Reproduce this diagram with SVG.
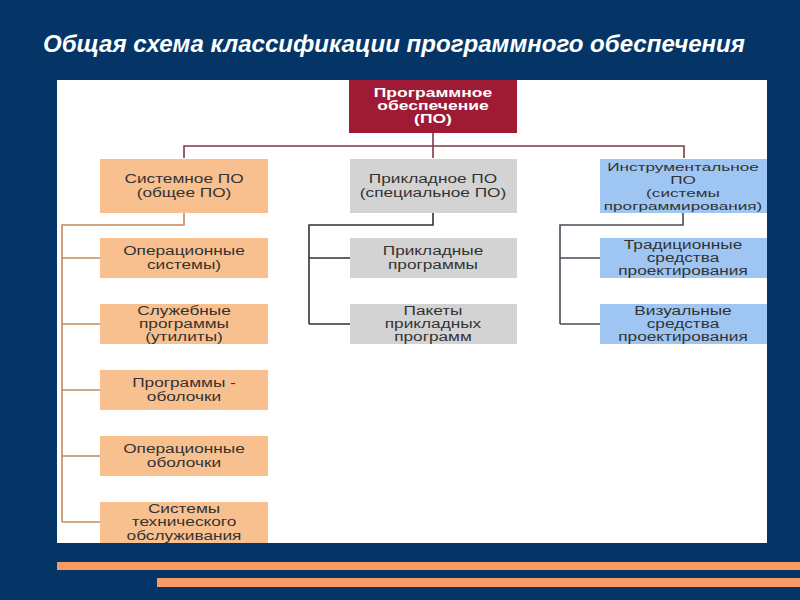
<svg xmlns="http://www.w3.org/2000/svg" width="800" height="600" viewBox="0 0 800 600">
<style>
.t{font-family:"Liberation Sans",Arial,sans-serif;font-size:12.5px;fill:#333333;text-anchor:middle}
.s{font-family:"Liberation Sans",Arial,sans-serif;font-size:11px;fill:#333333;text-anchor:middle}
.w{font-family:"Liberation Sans",Arial,sans-serif;font-size:12.5px;font-weight:bold;fill:#ffffff;text-anchor:middle}
.title{font-family:"Liberation Sans",Arial,sans-serif;font-size:23px;font-weight:bold;font-style:italic;fill:#ffffff}
.or{fill:#f9c08f}
.gr{fill:#d3d3d3}
.bl{fill:#9fc6f2}
.root{fill:#9e1a35}
.c{fill:none;stroke-width:1.6}
</style>
<rect width="800" height="600" fill="#053566"/>
<text class="title" x="43" y="52" textLength="702" lengthAdjust="spacingAndGlyphs">Общая схема классификации программного обеспечения</text>
<rect x="57" y="80" width="710" height="463" fill="#ffffff"/>
<rect x="57" y="562" width="743" height="8" fill="#f79a63"/>
<rect x="157" y="578" width="643" height="9" fill="#f79a63"/>

<g id="connectors">
<path class="c" stroke="#7e3b42" d="M433 133V146M184 158V146H684V158M433 146V158"/>
<path class="c" stroke="#c08a5c" d="M184 213V225H62V522M62 258H100M62 324H100M62 390H100M62 456H100M62 522H100"/>
<path class="c" stroke="#333333" d="M433 213V225H309V324M309 258H350M309 324H350"/>
<path class="c" stroke="#474c58" d="M683 213V225H560V324M560 258H600M560 324H600"/>
</g>

<g id="root"><rect class="root" x="349" y="80" width="168" height="53"/>
<g transform="translate(433 0) scale(1.4 1)"><text class="w" y="97">Программное</text><text class="w" y="110">обеспечение</text><text class="w" y="123">(ПО)</text></g></g>

<g id="sys"><rect class="or" x="100" y="159" width="168" height="54"/>
<g transform="translate(184 0) scale(1.38 1)"><text class="t" y="183">Системное ПО</text><text class="t" y="197">(общее ПО)</text></g></g>
<g id="app"><rect class="gr" x="350" y="159" width="167" height="54"/>
<g transform="translate(433 0) scale(1.38 1)"><text class="t" y="183">Прикладное ПО</text><text class="t" y="197">(специальное ПО)</text></g></g>
<g id="tool"><rect class="bl" x="600" y="159" width="167" height="54"/>
<g transform="translate(683 0) scale(1.56 1)"><text class="s" y="171">Инструментальное</text><text class="s" y="184">ПО</text><text class="s" y="197">(системы</text><text class="s" y="210">программирования)</text></g></g>

<g id="os"><rect class="or" x="100" y="238" width="168" height="40"/>
<g transform="translate(184 0) scale(1.38 1)"><text class="t" y="255">Операционные</text><text class="t" y="269">системы)</text></g></g>
<g id="util"><rect class="or" x="100" y="304" width="168" height="40"/>
<g transform="translate(184 0) scale(1.38 1)"><text class="t" y="315">Служебные</text><text class="t" y="328">программы</text><text class="t" y="341">(утилиты)</text></g></g>
<g id="shell"><rect class="or" x="100" y="370" width="168" height="40"/>
<g transform="translate(184 0) scale(1.38 1)"><text class="t" y="387">Программы -</text><text class="t" y="401">оболочки</text></g></g>
<g id="osshell"><rect class="or" x="100" y="436" width="168" height="40"/>
<g transform="translate(184 0) scale(1.38 1)"><text class="t" y="453">Операционные</text><text class="t" y="467">оболочки</text></g></g>
<g id="maint"><rect class="or" x="100" y="502" width="168" height="41"/>
<g transform="translate(184 0) scale(1.38 1)"><text class="t" y="513">Системы</text><text class="t" y="526">технического</text><text class="t" y="540">обслуживания</text></g></g>

<g id="apps"><rect class="gr" x="350" y="238" width="167" height="40"/>
<g transform="translate(433 0) scale(1.38 1)"><text class="t" y="255">Прикладные</text><text class="t" y="269">программы</text></g></g>
<g id="packs"><rect class="gr" x="350" y="304" width="167" height="40"/>
<g transform="translate(433 0) scale(1.38 1)"><text class="t" y="315">Пакеты</text><text class="t" y="328">прикладных</text><text class="t" y="341">программ</text></g></g>

<g id="trad"><rect class="bl" x="600" y="238" width="167" height="40"/>
<g transform="translate(683 0) scale(1.38 1)"><text class="t" y="249">Традиционные</text><text class="t" y="262">средства</text><text class="t" y="275">проектирования</text></g></g>
<g id="vis"><rect class="bl" x="600" y="304" width="167" height="40"/>
<g transform="translate(683 0) scale(1.38 1)"><text class="t" y="315">Визуальные</text><text class="t" y="328">средства</text><text class="t" y="341">проектирования</text></g></g>
</svg>
